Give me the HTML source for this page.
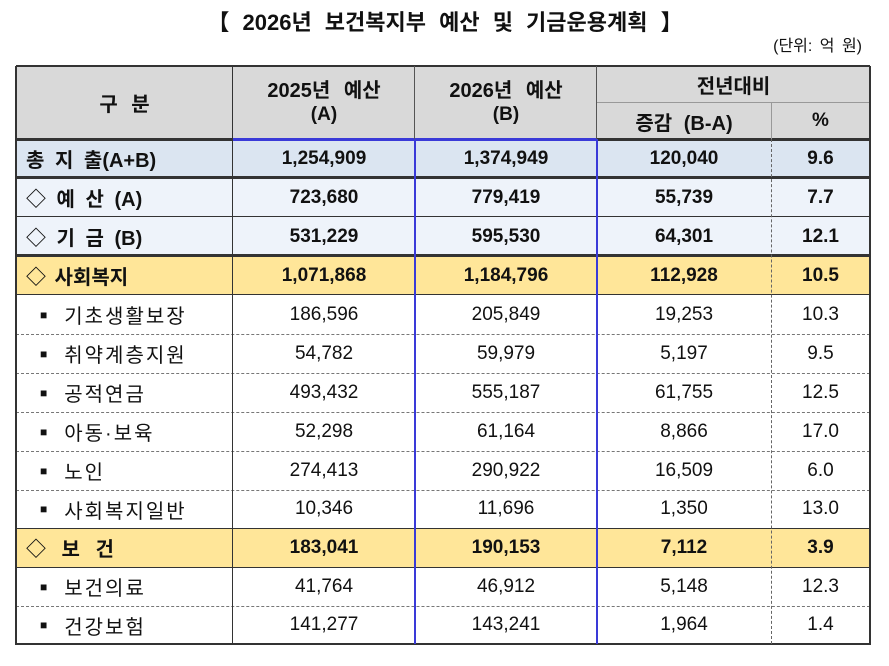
<!DOCTYPE html>
<html><head><meta charset="utf-8"><style>
body{margin:0;width:889px;height:666px;background:#fff;position:relative;overflow:hidden;font-family:"Liberation Sans","Noto Sans CJK KR",sans-serif;color:#111}
div{position:absolute;box-sizing:border-box}
.t{display:flex;align-items:center;justify-content:center;font-size:19px;white-space:nowrap}
.b{font-weight:bold}
.l{justify-content:flex-start}
.k{font-size:20px;letter-spacing:2px}
.h{background:#333;height:1px}
.H{background:#333;height:3px}
.d{border-top:1px dashed #777;height:1px}
.q{font-size:12px;margin-right:17px;letter-spacing:0}
</style></head><body>
<div class="t b" style="left:150px;top:4px;width:590px;height:34px;font-size:22px;word-spacing:7px">【 2026년 보건복지부 예산 및 기금운용계획 】</div>
<div class="t" style="left:740px;top:32px;width:122px;height:24px;font-size:16px;justify-content:flex-end;word-spacing:3px">(단위: 억 원)</div>

<div style="left:16px;top:66px;width:854px;height:73px;background:#d9d9d9"></div>
<div style="left:16px;top:139px;width:854px;height:39px;background:#dbe5f1"></div>
<div style="left:16px;top:178px;width:854px;height:78px;background:#eef3fa"></div>
<div style="left:16px;top:256px;width:854px;height:39px;background:#ffe699"></div>
<div style="left:16px;top:528px;width:854px;height:39px;background:#ffe699"></div>

<div class="H" style="left:16px;top:65px;width:854px;height:2px"></div>
<div style="left:597px;top:102px;width:273px;height:1px;background:#999"></div>
<div class="H" style="left:16px;top:138px;width:854px"></div>
<div style="left:233px;top:138px;width:364px;height:3px;background:#3a3ad8"></div>
<div class="H" style="left:16px;top:176px;width:854px"></div>
<div class="h" style="left:16px;top:216px;width:854px"></div>
<div class="H" style="left:16px;top:254px;width:854px"></div>
<div class="h" style="left:16px;top:294px;width:854px"></div>
<div class="d" style="left:16px;top:334px;width:854px"></div>
<div class="d" style="left:16px;top:373px;width:854px"></div>
<div class="d" style="left:16px;top:412px;width:854px"></div>
<div class="d" style="left:16px;top:451px;width:854px"></div>
<div class="d" style="left:16px;top:490px;width:854px"></div>
<div class="h" style="left:16px;top:528px;width:854px"></div>
<div class="h" style="left:16px;top:567px;width:854px"></div>
<div class="d" style="left:16px;top:606px;width:854px"></div>
<div class="H" style="left:16px;top:643px;width:854px;height:2px"></div>

<div style="left:15px;top:66px;width:2px;height:579px;background:#333"></div>
<div style="left:869px;top:66px;width:2px;height:579px;background:#333"></div>
<div style="left:232px;top:66px;width:1px;height:579px;background:#333"></div>
<div style="left:414px;top:66px;width:1px;height:73px;background:#555"></div>
<div style="left:414px;top:139px;width:2px;height:505px;background:#3a3ad8"></div>
<div style="left:596px;top:66px;width:1px;height:73px;background:#555"></div>
<div style="left:596px;top:139px;width:2px;height:505px;background:#3a3ad8"></div>
<div style="left:771px;top:103px;width:1px;height:36px;background:#999"></div>
<div style="left:771px;top:139px;width:1px;height:505px;border-left:1px dashed #666"></div>

<div class="t b" style="left:16px;top:66px;width:217px;height:73px;word-spacing:8px;font-size:20px">구 분</div>
<div class="t b" style="left:233px;top:70px;width:182px;height:36px;word-spacing:8px;font-size:20px">2025년 예산</div>
<div class="t b" style="left:233px;top:100px;width:182px;height:30px">(A)</div>
<div class="t b" style="left:415px;top:70px;width:182px;height:36px;word-spacing:8px;font-size:20px">2026년 예산</div>
<div class="t b" style="left:415px;top:100px;width:182px;height:30px">(B)</div>
<div class="t b" style="left:597px;top:66px;width:273px;height:37px;font-size:20px">전년대비</div>
<div class="t b" style="left:597px;top:103px;width:174px;height:36px;word-spacing:6px;font-size:20px">증감 (B-A)</div>
<div class="t b" style="left:771px;top:103px;width:99px;height:36px">%</div>

<div class="t b l" style="left:26px;top:139px;width:207px;height:39px;font-size:20px;word-spacing:5px">총 지 출(A+B)</div>
<div class="t b" style="left:233px;top:139px;width:182px;height:39px">1,254,909</div>
<div class="t b" style="left:415px;top:139px;width:182px;height:39px">1,374,949</div>
<div class="t b" style="left:597px;top:139px;width:174px;height:39px">120,040</div>
<div class="t b" style="left:771px;top:139px;width:99px;height:39px">9.6</div>

<div class="t b l" style="left:26px;top:178px;width:207px;height:39px;font-size:20px;word-spacing:5px">◇ 예 산 (A)</div>
<div class="t b" style="left:233px;top:178px;width:182px;height:39px">723,680</div>
<div class="t b" style="left:415px;top:178px;width:182px;height:39px">779,419</div>
<div class="t b" style="left:597px;top:178px;width:174px;height:39px">55,739</div>
<div class="t b" style="left:771px;top:178px;width:99px;height:39px">7.7</div>

<div class="t b l" style="left:26px;top:217px;width:207px;height:39px;font-size:20px;word-spacing:5px">◇ 기 금 (B)</div>
<div class="t b" style="left:233px;top:217px;width:182px;height:39px">531,229</div>
<div class="t b" style="left:415px;top:217px;width:182px;height:39px">595,530</div>
<div class="t b" style="left:597px;top:217px;width:174px;height:39px">64,301</div>
<div class="t b" style="left:771px;top:217px;width:99px;height:39px">12.1</div>

<div class="t b l" style="left:26px;top:256px;width:207px;height:39px;font-size:20px;word-spacing:3px">◇ 사회복지</div>
<div class="t b" style="left:233px;top:256px;width:182px;height:39px">1,071,868</div>
<div class="t b" style="left:415px;top:256px;width:182px;height:39px">1,184,796</div>
<div class="t b" style="left:597px;top:256px;width:174px;height:39px">112,928</div>
<div class="t b" style="left:771px;top:256px;width:99px;height:39px">10.5</div>

<div class="t l k" style="left:40px;top:295px;width:193px;height:39px"><span class="q">■</span>기초생활보장</div>
<div class="t" style="left:233px;top:295px;width:182px;height:39px">186,596</div>
<div class="t" style="left:415px;top:295px;width:182px;height:39px">205,849</div>
<div class="t" style="left:597px;top:295px;width:174px;height:39px">19,253</div>
<div class="t" style="left:771px;top:295px;width:99px;height:39px">10.3</div>

<div class="t l k" style="left:40px;top:334px;width:193px;height:39px"><span class="q">■</span>취약계층지원</div>
<div class="t" style="left:233px;top:334px;width:182px;height:39px">54,782</div>
<div class="t" style="left:415px;top:334px;width:182px;height:39px">59,979</div>
<div class="t" style="left:597px;top:334px;width:174px;height:39px">5,197</div>
<div class="t" style="left:771px;top:334px;width:99px;height:39px">9.5</div>

<div class="t l k" style="left:40px;top:373px;width:193px;height:39px"><span class="q">■</span>공적연금</div>
<div class="t" style="left:233px;top:373px;width:182px;height:39px">493,432</div>
<div class="t" style="left:415px;top:373px;width:182px;height:39px">555,187</div>
<div class="t" style="left:597px;top:373px;width:174px;height:39px">61,755</div>
<div class="t" style="left:771px;top:373px;width:99px;height:39px">12.5</div>

<div class="t l k" style="left:40px;top:412px;width:193px;height:39px"><span class="q">■</span>아동·보육</div>
<div class="t" style="left:233px;top:412px;width:182px;height:39px">52,298</div>
<div class="t" style="left:415px;top:412px;width:182px;height:39px">61,164</div>
<div class="t" style="left:597px;top:412px;width:174px;height:39px">8,866</div>
<div class="t" style="left:771px;top:412px;width:99px;height:39px">17.0</div>

<div class="t l k" style="left:40px;top:451px;width:193px;height:39px"><span class="q">■</span>노인</div>
<div class="t" style="left:233px;top:451px;width:182px;height:39px">274,413</div>
<div class="t" style="left:415px;top:451px;width:182px;height:39px">290,922</div>
<div class="t" style="left:597px;top:451px;width:174px;height:39px">16,509</div>
<div class="t" style="left:771px;top:451px;width:99px;height:39px">6.0</div>

<div class="t l k" style="left:40px;top:490px;width:193px;height:38px"><span class="q">■</span>사회복지일반</div>
<div class="t" style="left:233px;top:490px;width:182px;height:38px">10,346</div>
<div class="t" style="left:415px;top:490px;width:182px;height:38px">11,696</div>
<div class="t" style="left:597px;top:490px;width:174px;height:38px">1,350</div>
<div class="t" style="left:771px;top:490px;width:99px;height:38px">13.0</div>

<div class="t b l" style="left:26px;top:528px;width:207px;height:39px;font-size:20px;word-spacing:10px">◇ 보 건</div>
<div class="t b" style="left:233px;top:528px;width:182px;height:39px">183,041</div>
<div class="t b" style="left:415px;top:528px;width:182px;height:39px">190,153</div>
<div class="t b" style="left:597px;top:528px;width:174px;height:39px">7,112</div>
<div class="t b" style="left:771px;top:528px;width:99px;height:39px">3.9</div>

<div class="t l k" style="left:40px;top:567px;width:193px;height:39px"><span class="q">■</span>보건의료</div>
<div class="t" style="left:233px;top:567px;width:182px;height:39px">41,764</div>
<div class="t" style="left:415px;top:567px;width:182px;height:39px">46,912</div>
<div class="t" style="left:597px;top:567px;width:174px;height:39px">5,148</div>
<div class="t" style="left:771px;top:567px;width:99px;height:39px">12.3</div>

<div class="t l k" style="left:40px;top:606px;width:193px;height:38px"><span class="q">■</span>건강보험</div>
<div class="t" style="left:233px;top:606px;width:182px;height:38px">141,277</div>
<div class="t" style="left:415px;top:606px;width:182px;height:38px">143,241</div>
<div class="t" style="left:597px;top:606px;width:174px;height:38px">1,964</div>
<div class="t" style="left:771px;top:606px;width:99px;height:38px">1.4</div>
</body></html>
